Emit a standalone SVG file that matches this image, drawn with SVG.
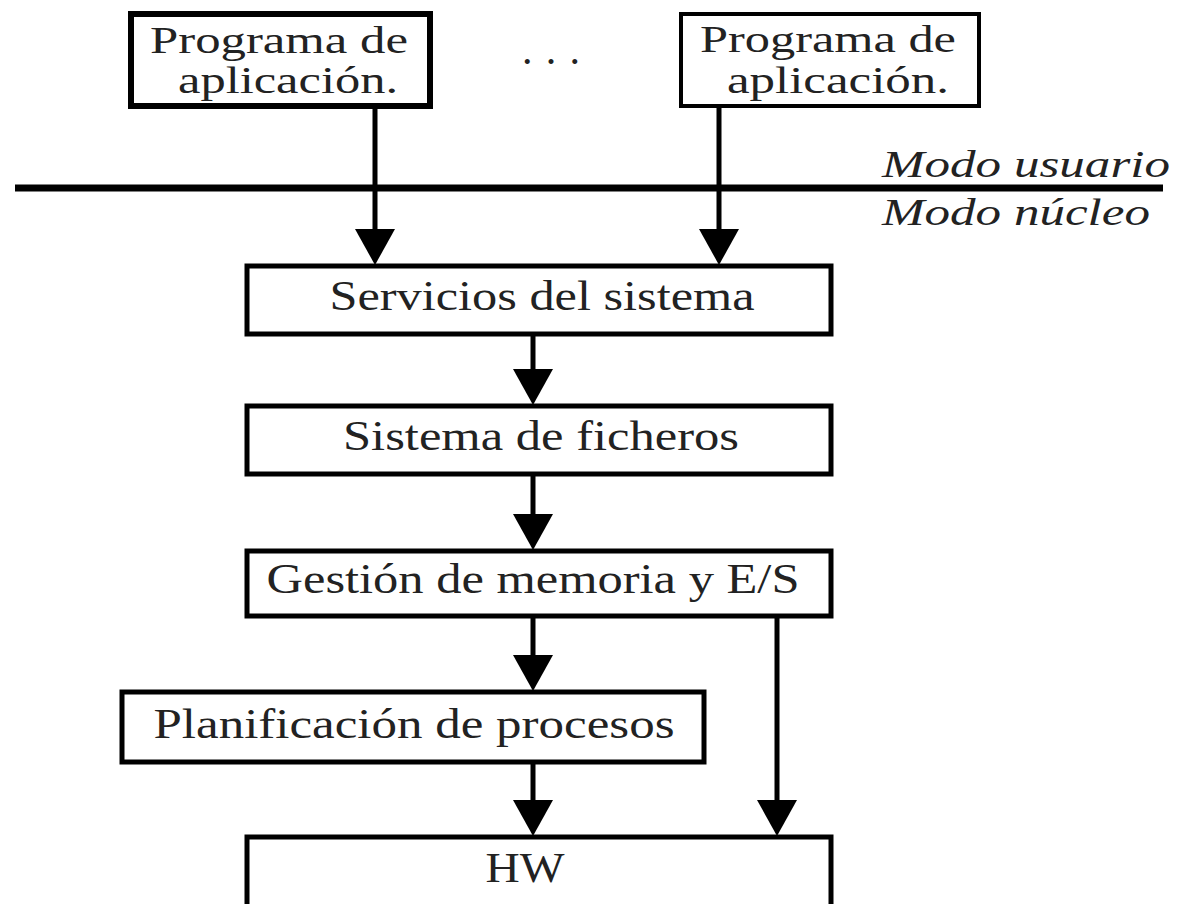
<svg xmlns="http://www.w3.org/2000/svg" width="1178" height="904" viewBox="0 0 1178 904">
<style>
.box{fill:#fff;stroke:#000;stroke-width:5}
.t{font-family:"Liberation Serif","Times New Roman",serif;font-size:42px;fill:#222;text-anchor:middle}
.p{font-size:37px}
.i{font-family:"Liberation Serif","Times New Roman",serif;font-size:38px;font-style:italic;fill:#222}
.ln{stroke:#000;stroke-width:5;fill:none}
</style>
<defs>
<marker id="ah" markerUnits="userSpaceOnUse" markerWidth="36" markerHeight="40" viewBox="0 0 36 40" refX="16" refY="20" orient="auto">
<path d="M0,0 L36,20 L0,40 Z" fill="#000"/>
</marker>
</defs>
<rect width="1178" height="904" fill="#fff"/>
<g id="connectors">
<line x1="15" y1="188" x2="1163" y2="188" stroke="#000" stroke-width="7"/>
<path class="ln" d="M375,108 V245" marker-end="url(#ah)"/>
<path class="ln" d="M719,108 V245" marker-end="url(#ah)"/>
<path class="ln" d="M533,336 V385" marker-end="url(#ah)"/>
<path class="ln" d="M533,476 V530" marker-end="url(#ah)"/>
<path class="ln" d="M533,618 V671" marker-end="url(#ah)"/>
<path class="ln" d="M533,764 V816" marker-end="url(#ah)"/>
<path class="ln" d="M777,618 V816" marker-end="url(#ah)"/>
</g>
<g id="app1">
<rect class="box" x="131" y="14" width="299" height="92" style="stroke-width:6"/>
<text class="t p" x="279" y="53" textLength="258" lengthAdjust="spacingAndGlyphs">Programa de</text>
<text class="t p" x="288" y="93" textLength="220" lengthAdjust="spacingAndGlyphs">aplicación.</text>
</g>
<g id="dots"><text class="t" x="551" y="64" textLength="58" lengthAdjust="spacing">. . .</text></g>
<g id="app2">
<rect class="box" x="681" y="14" width="298" height="92" style="stroke-width:4"/>
<text class="t p" x="828" y="52" textLength="256" lengthAdjust="spacingAndGlyphs">Programa de</text>
<text class="t p" x="838" y="93" textLength="222" lengthAdjust="spacingAndGlyphs">aplicación.</text>
</g>
<g id="modes">
<text class="i" x="882" y="177" textLength="288" lengthAdjust="spacingAndGlyphs">Modo usuario</text>
<text class="i" x="882" y="225" textLength="268" lengthAdjust="spacingAndGlyphs">Modo núcleo</text>
</g>
<g id="servicios">
<rect class="box" x="247" y="266" width="584" height="68"/>
<text class="t" x="542" y="310" textLength="425" lengthAdjust="spacingAndGlyphs">Servicios del sistema</text>
</g>
<g id="ficheros">
<rect class="box" x="247" y="406" width="584" height="68"/>
<text class="t" x="541" y="450" textLength="396" lengthAdjust="spacingAndGlyphs">Sistema de ficheros</text>
</g>
<g id="memoria">
<rect class="box" x="247" y="551" width="584" height="65"/>
<text class="t" x="533" y="593" textLength="533" lengthAdjust="spacingAndGlyphs">Gestión de memoria y E/S</text>
</g>
<g id="planificacion">
<rect class="box" x="122" y="692" width="582" height="70"/>
<text class="t" x="414" y="738" textLength="521" lengthAdjust="spacingAndGlyphs">Planificación de procesos</text>
</g>
<g id="hw">
<rect class="box" x="247" y="837" width="584" height="70"/>
<text class="t" x="525" y="882" textLength="79" lengthAdjust="spacingAndGlyphs">HW</text>
</g>
</svg>
